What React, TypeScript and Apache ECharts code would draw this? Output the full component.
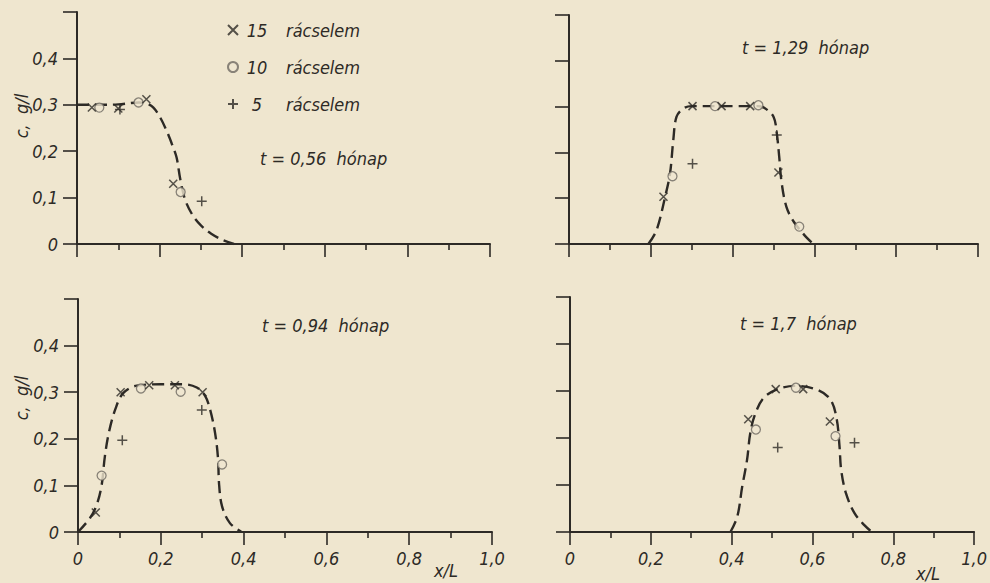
import React, { useEffect, useRef } from "react";
import * as echarts from "echarts";

// ---- data (x/L, c in g/l) ----
const xTicks = [0, 0.2, 0.4, 0.6, 0.8, 1.0];
const yTicks = [0, 0.1, 0.2, 0.3, 0.4];
const seriesNames = ["15 rácselem", "10 rácselem", "5 rácselem"];
const timeLabels = ["t = 0,56  hónap", "t = 1,29  hónap", "t = 0,94  hónap", "t = 1,7  hónap"];

// panel 1: t = 0.56
const p1Curve = [[0, 0.3], [0.05, 0.3], [0.1, 0.301], [0.15, 0.305], [0.17, 0.302], [0.185, 0.294], [0.2, 0.275], [0.217, 0.244], [0.23, 0.215], [0.241, 0.187], [0.25, 0.14], [0.262, 0.095], [0.28, 0.062], [0.3, 0.04], [0.325, 0.022], [0.352, 0.009], [0.38, 0]];
const p1Cross = [[0.036, 0.294], [0.1, 0.292], [0.168, 0.312], [0.233, 0.13]];
const p1Circle = [[0.054, 0.294], [0.149, 0.305], [0.251, 0.112]];
const p1Plus = [[0.104, 0.29], [0.302, 0.092]];

// panel 2: t = 1.29
const p2Curve = [[0.194, 0], [0.214, 0.03], [0.235, 0.103], [0.247, 0.154], [0.255, 0.227], [0.263, 0.278], [0.28, 0.296], [0.3, 0.301], [0.4, 0.301], [0.46, 0.301], [0.478, 0.297], [0.5, 0.278], [0.508, 0.242], [0.514, 0.19], [0.52, 0.133], [0.532, 0.08], [0.55, 0.048], [0.575, 0.02], [0.597, 0]];
const p2Cross = [[0.231, 0.103], [0.302, 0.301], [0.373, 0.301], [0.443, 0.301], [0.512, 0.156]];
const p2Circle = [[0.253, 0.148], [0.357, 0.301], [0.463, 0.303], [0.563, 0.038]];
const p2Plus = [[0.302, 0.175], [0.508, 0.238]];

// panel 3: t = 0.94
const p3Curve = [[0, 0], [0.029, 0.03], [0.045, 0.058], [0.057, 0.1], [0.065, 0.163], [0.075, 0.215], [0.09, 0.263], [0.109, 0.298], [0.142, 0.314], [0.2, 0.317], [0.254, 0.317], [0.287, 0.31], [0.307, 0.292], [0.319, 0.263], [0.331, 0.213], [0.338, 0.16], [0.341, 0.1], [0.348, 0.055], [0.367, 0.019], [0.395, 0]];
const p3Cross = [[0.043, 0.042], [0.103, 0.3], [0.172, 0.315], [0.234, 0.315], [0.301, 0.3]];
const p3Circle = [[0.057, 0.121], [0.152, 0.308], [0.248, 0.301], [0.348, 0.145]];
const p3Plus = [[0.107, 0.197], [0.299, 0.262]];

// panel 4: t = 1.7
const p4Curve = [[0.397, 0], [0.414, 0.033], [0.426, 0.096], [0.438, 0.153], [0.446, 0.21], [0.457, 0.248], [0.477, 0.283], [0.508, 0.302], [0.557, 0.311], [0.614, 0.302], [0.645, 0.281], [0.66, 0.24], [0.667, 0.181], [0.671, 0.132], [0.683, 0.082], [0.704, 0.04], [0.729, 0.014], [0.747, 0]];
const p4Cross = [[0.441, 0.24], [0.509, 0.304], [0.577, 0.304], [0.643, 0.235]];
const p4Circle = [[0.46, 0.218], [0.559, 0.307], [0.657, 0.204]];
const p4Plus = [[0.514, 0.18], [0.704, 0.19]];

const FONT = '"DejaVu Sans Condensed", "Liberation Sans Narrow", "DejaVu Sans", sans-serif';
const INK = "#2d2a26";
const BG = "#efe6cf";

const panels = [
  { grid: { left: 77, top: 12, width: 413, height: 232 }, curve: p1Curve, cross: p1Cross, circle: p1Circle, plus: p1Plus, xl: false, yl: true, t: [260, 158] },
  { grid: { left: 569, top: 15, width: 409, height: 229 }, curve: p2Curve, cross: p2Cross, circle: p2Circle, plus: p2Plus, xl: false, yl: false, t: [742, 47] },
  { grid: { left: 78, top: 299, width: 414, height: 233 }, curve: p3Curve, cross: p3Cross, circle: p3Circle, plus: p3Plus, xl: true, yl: true, t: [262, 325] },
  { grid: { left: 570, top: 297, width: 407, height: 235 }, curve: p4Curve, cross: p4Cross, circle: p4Circle, plus: p4Plus, xl: true, yl: false, t: [740, 323] },
];

const fmt = (v: number) => (Math.abs(v) < 1e-9 ? "0" : v.toFixed(1).replace(".", ","));

export default function App() {
  const ref = useRef<HTMLDivElement>(null);
  useEffect(() => {
    if (!ref.current) return;
    const chart = echarts.init(ref.current, null, { renderer: "svg" });
    const textBase = { fontFamily: FONT, fontStyle: "italic", fontSize: 18, color: INK };
    const grids: any[] = [];
    const xAxes: any[] = [];
    const yAxes: any[] = [];
    const series: any[] = [];
    const graphics: any[] = [];
    panels.forEach((p, i) => {
      grids.push({ ...p.grid, containLabel: false });
      xAxes.push({
        type: "value", gridIndex: i, min: 0, max: 1, interval: 0.2,
        axisLine: { lineStyle: { color: INK, width: 2 } },
        axisTick: { show: true, length: 13, lineStyle: { color: INK, width: 1.6 } },
        minorTick: { show: true, splitNumber: 2, length: 6, lineStyle: { color: INK, width: 1.6 } },
        splitLine: { show: false },
        axisLabel: {
          show: p.xl, margin: 17, ...textBase,
          customValues: xTicks,
          formatter: (v: number) => fmt(v),
        },
      });
      yAxes.push({
        type: "value", gridIndex: i, min: 0, max: 0.5, interval: 0.1,
        axisLine: { onZero: false, lineStyle: { color: INK, width: 2 } },
        axisTick: { show: true, length: 14, lineStyle: { color: INK, width: 1.6 } },
        splitLine: { show: false },
        axisLabel: {
          show: p.yl, margin: 19, ...textBase,
          customValues: yTicks,
          formatter: (v: number) => fmt(v),
        },
      });
      series.push({
        type: "line", name: "curve" + i, xAxisIndex: i, yAxisIndex: i, data: p.curve,
        showSymbol: false, symbol: "none", smooth: 0.35, z: 2,
        lineStyle: { color: INK, width: 2.4, type: [12, 6] },
      });
      series.push({
        type: "scatter", name: seriesNames[0], xAxisIndex: i, yAxisIndex: i, data: p.cross,
        symbol: "path://M0,0L10,10M10,0L0,10", symbolSize: 8, z: 4,
        itemStyle: { color: INK, borderColor: INK, borderWidth: 1.5 },
      });
      series.push({
        type: "scatter", name: seriesNames[1], xAxisIndex: i, yAxisIndex: i, data: p.circle,
        symbol: "circle", symbolSize: 9, z: 3,
        itemStyle: { color: BG, borderColor: "#6e6962", borderWidth: 1.3 },
      });
      series.push({
        type: "scatter", name: seriesNames[2], xAxisIndex: i, yAxisIndex: i, data: p.plus,
        symbol: "path://M5,0L5,10M0,5L10,5", symbolSize: 10, z: 4,
        itemStyle: { color: INK, borderColor: INK, borderWidth: 1.5 },
      });
      graphics.push({
        type: "text", x: p.t[0], y: p.t[1],
        style: { text: timeLabels[i], ...textBase, fill: INK, verticalAlign: "middle" },
      });
    });
    // axis titles
    graphics.push({ type: "text", x: 21, y: 116, rotation: Math.PI / 2, style: { text: "c,  g/l", ...textBase, fill: INK, align: "center", verticalAlign: "middle" } });
    graphics.push({ type: "text", x: 21, y: 398, rotation: Math.PI / 2, style: { text: "c,  g/l", ...textBase, fill: INK, align: "center", verticalAlign: "middle" } });
    graphics.push({ type: "text", x: 446, y: 570, style: { text: "x/L", ...textBase, fill: INK, align: "center", verticalAlign: "middle" } });
    graphics.push({ type: "text", x: 928, y: 573, style: { text: "x/L", ...textBase, fill: INK, align: "center", verticalAlign: "middle" } });

    chart.setOption({
      animation: false,
      backgroundColor: BG,
      grid: grids,
      xAxis: xAxes,
      yAxis: yAxes,
      series,
      legend: {
        data: seriesNames,
        orient: "vertical",
        left: 222,
        top: 15,
        itemWidth: 10,
        itemHeight: 10,
        itemGap: 17,
        selectedMode: false,
        formatter: (name: string) => {
          const n = name.split(" ")[0];
          return `{n|${n}}{r|rácselem}`;
        },
        textStyle: {
          ...textBase,
          lineHeight: 20,
          rich: {
            n: { ...textBase, width: 28, align: "right" },
            r: { ...textBase, padding: [0, 0, 0, 15] },
          },
        },
      },
      graphic: graphics,
    });
    return () => chart.dispose();
  }, []);
  return <div ref={ref} style={{ position: "fixed", left: 0, top: 0, width: 990, height: 583 }} />;
}
